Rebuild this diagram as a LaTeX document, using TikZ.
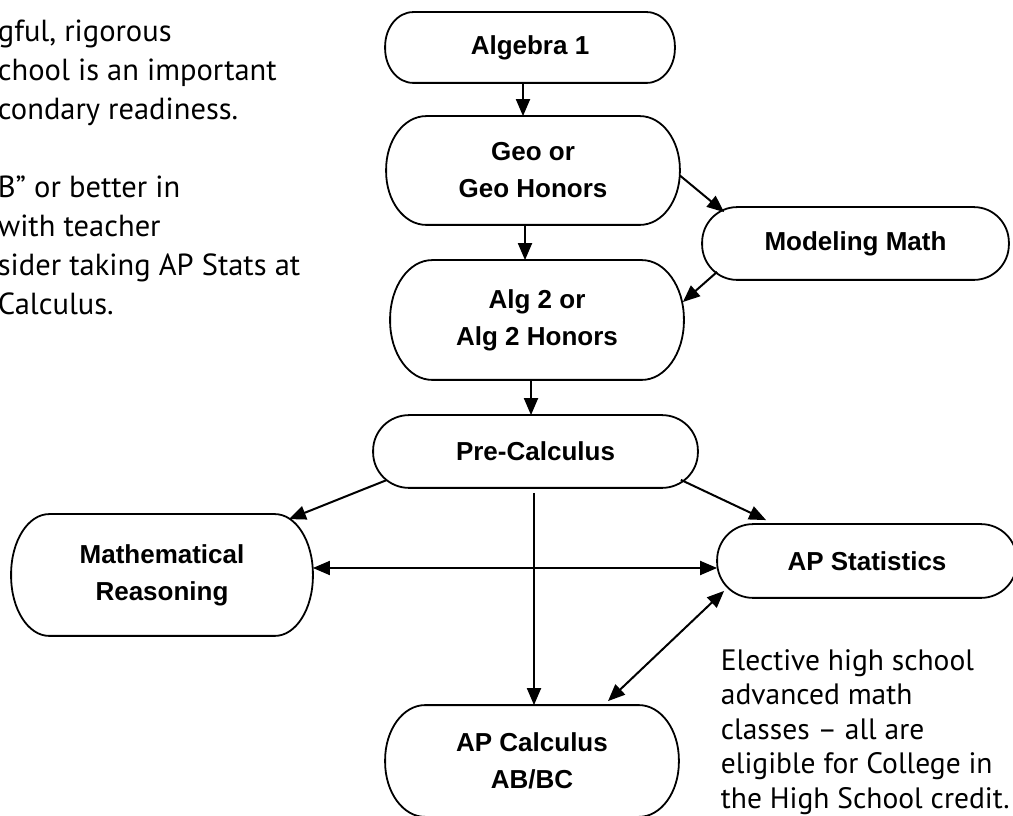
\documentclass[tikz,border=0pt]{standalone}
\usepackage{fontspec}
\setmainfont{PT Sans}
\setsansfont{Liberation Sans}
\usepackage{tikz}
\usetikzlibrary{arrows.meta}

% outline with elliptical ends around a node
\newcommand{\pillframe}[3]{%
  \draw[-] ([xshift=#2]#1.north west) -- ([xshift=-#2]#1.north east)
    arc[start angle=90, end angle=0, x radius=#2, y radius=#3]
    -- ([yshift=#3]#1.south east)
    arc[start angle=0, end angle=-90, x radius=#2, y radius=#3]
    -- ([xshift=#2]#1.south west)
    arc[start angle=270, end angle=180, x radius=#2, y radius=#3]
    -- ([yshift=-#3]#1.north west)
    arc[start angle=180, end angle=90, x radius=#2, y radius=#3] -- cycle;}

\begin{document}
\begin{tikzpicture}[x=1pt,y=1pt,>={Triangle[length=17pt,width=14pt]},
                    line width=1.8pt]
  \tikzstyle{course}=[draw=none,inner sep=0pt,align=center,
                      font=\sffamily\bfseries\fontsize{26}{37}\selectfont]
  \tikzstyle{blurb}=[inner sep=0pt,align=left,anchor=base west]

  \useasboundingbox (0,0) rectangle (1013,815);

  \node[course,minimum width=288pt,minimum height=69pt]  (alg1)  at (530,767.5) {Algebra 1};
  \node[course,minimum width=292pt,minimum height=107pt] (geo)   at (533,644.5) {Geo or\\Geo Honors};
  \node[course,minimum width=305pt,minimum height=71pt]  (model) at (855.5,571.5) {Modeling Math};
  \node[course,minimum width=292pt,minimum height=118pt] (alg2)  at (537,495) {Alg 2 or\\Alg 2 Honors};
  \node[course,minimum width=323pt,minimum height=71pt]  (prec)  at (535.5,363.5) {Pre-Calculus};
  \node[course,minimum width=300pt,minimum height=120pt] (mr)    at (162,240) {Mathematical\\Reasoning};
  \node[course,minimum width=298pt,minimum height=72pt]  (aps)   at (867,254) {AP Statistics};
  \node[course,minimum width=292pt,minimum height=110pt] (apc)   at (532,54) {AP Calculus\\AB/BC};

  \foreach \n/\rx/\ry in {alg1/28/34.5, geo/40/53.5, model/35/35.5, alg2/42/59,
                          prec/36/35.5, mr/38/60, aps/36/36, apc/40/55}
    \pillframe{\n}{\rx pt}{\ry pt};

  \path[->,line width=2pt]
        ([xshift=-7pt]alg1.south) edge ([xshift=-10pt]geo.north)
        ([xshift=-8pt]geo.south) edge ([xshift=-12pt]alg2.north)
        ([yshift=-5pt]geo.east) edge ([xshift=22pt,yshift=-5pt]model.north west)
        ([xshift=15pt,yshift=8pt]model.south west) edge ([xshift=-1pt,yshift=18pt]alg2.east)
        ([xshift=-6pt]alg2.south) edge ([xshift=-4.5pt]prec.north)
        ([xshift=14pt,yshift=8pt]prec.south west) edge ([xshift=-24pt,yshift=-5pt]mr.north east)
        ([xshift=-17pt,yshift=8pt]prec.south east) edge ([xshift=49pt,yshift=4pt]aps.north west)
        ([xshift=-1.5pt,yshift=-5pt]prec.south) edge ([xshift=2pt]apc.north);
  \path[<->,line width=2pt]
        ([yshift=7pt]mr.east) edge ([yshift=-7pt]aps.west)
        ([xshift=76pt,yshift=4pt]apc.north) edge ([xshift=7pt,yshift=7pt]aps.south west);

  \node[blurb,font=\fontsize{30.5}{39}\selectfont] (intro) at (-3,500)
    {gful, rigorous\\chool is an important\\condary readiness.\\[39pt]%
     B” or better in\\with teacher\\sider taking AP Stats at\\Calculus.};
  \node[blurb,font=\fontsize{29.5}{34.5}\selectfont] (elective) at (720,7)
    {Elective high school\\advanced math\\classes – all are\\eligible for College in\\the High School credit.};
\end{tikzpicture}
\end{document}
